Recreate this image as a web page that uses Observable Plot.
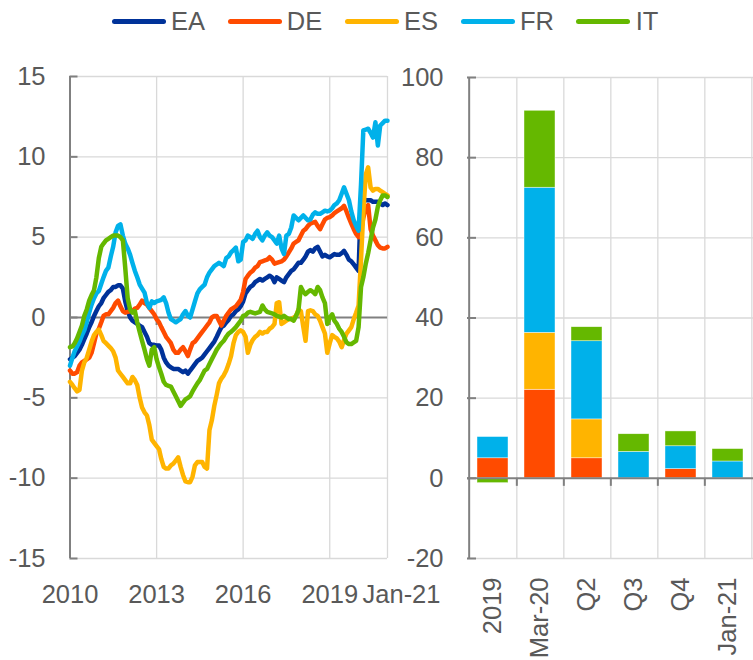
<!DOCTYPE html>
<html><head><meta charset="utf-8">
<script src="https://cdn.jsdelivr.net/npm/d3@7"></script>
<script src="https://cdn.jsdelivr.net/npm/@observablehq/plot@0.6"></script>
<style>
html,body{margin:0;padding:0;background:#fff;}
#chart{position:relative;width:753px;height:660px;overflow:hidden;font-family:"Liberation Sans",Arial,sans-serif;color:#595959;background:#fff;}
#legend{position:absolute;left:111.7px;top:0;height:43px;display:flex;align-items:center;font-size:25.5px;white-space:nowrap;}
.item{display:flex;align-items:center;margin-right:22.5px;}
.swatch{width:54px;height:5px;border-radius:2.5px;margin-right:5.3px;}
#left,#right{position:absolute;top:0;}
#left{left:0;} #right{left:373px;}
</style></head><body>
<div id="chart"><div id="left"></div><div id="right"></div><div id="legend"></div></div>
<script>
const FONT = '"Liberation Sans", Arial, sans-serif';
const seriesNames = ["EA", "DE", "ES", "FR", "IT"];
const seriesColors = ["#003299", "#ff4b00", "#ffb400", "#00b1ea", "#65b800"];
const startMonth = "2010-01";

// monthly values, Jan 2010 .. Jan 2021
const EA = [
  -2.6, -2.5, -2.4, -2.2, -2.0, -1.7, -1.35, -1.0, -0.6, -0.3, 0.1, 0.4,
  0.7, 0.9, 1.2, 1.4, 1.6, 1.7, 1.9, 1.9, 2.0, 2.0, 1.8, 1.0,
  0.4, 0.0, -0.2, -0.3, -0.4, -0.5, -0.6, -0.9, -1.2, -1.6, -1.7, -1.7,
  -1.75, -1.75, -2.0, -2.5, -2.8, -3.0, -3.1, -3.2, -3.2, -3.2, -3.3, -3.4,
  -3.3, -3.5, -3.3, -3.1, -2.9, -2.7, -2.6, -2.5, -2.3, -2.1, -1.9, -1.7,
  -1.5, -1.2, -0.9, -0.6, -0.5, -0.3, -0.15, 0.1, 0.2, 0.4, 0.5, 0.7,
  1.0, 1.5, 1.7, 1.9, 2.0, 2.2, 2.3, 2.4, 2.3, 2.4, 2.5, 2.6,
  2.5, 2.2, 2.5, 2.4, 2.3, 2.2, 2.5, 2.7, 2.9, 3.0, 3.2, 3.4,
  3.4, 3.6, 3.8, 4.1, 4.2, 4.1, 4.3, 4.4, 4.1, 3.8, 3.9, 3.8,
  3.75, 3.85, 3.95, 3.9, 3.9, 4.0, 4.15, 3.9, 3.6, 3.5, 3.3, 3.1,
  2.9, 7.4, 7.4, 7.3, 7.3, 7.3, 7.2, 7.2, 7.2, 7.1, 7.0, 7.1,
  7.0
];
const DE = [
  -3.3, -3.5, -3.5, -3.4, -3.0, -2.8, -2.7, -2.6, -2.5, -2.2, -1.6, -1.0,
  -0.7, -0.3, 0.1, 0.2, 0.2, 0.4, 0.6, 0.9, 1.05, 0.7, 0.4, 0.3,
  0.35, 0.4, 0.4, 0.55, 0.6, 0.8, 1.05, 0.9, 0.8, 0.6, 0.4, 0.2,
  -0.1, -0.3, -0.6, -0.9, -1.2, -1.4, -1.6, -2.0, -2.2, -2.2, -2.0, -1.85,
  -2.1, -2.4, -2.0, -1.6, -1.5, -1.3, -1.1, -0.9, -0.7, -0.5, -0.3, 0.0,
  0.1, 0.1, -0.2, -0.5, -0.2, 0.1, 0.3, 0.5, 0.6, 0.7, 0.9, 1.1,
  1.6, 2.4, 2.6, 2.8, 2.9, 3.1, 3.2, 3.45, 3.5, 3.55, 3.6, 3.75,
  3.6, 3.35, 3.4, 3.45, 3.5, 3.6, 3.8, 4.05, 4.3, 4.6, 4.7, 4.8,
  5.1, 5.4, 5.5, 5.7, 5.85, 5.9, 5.95, 5.7, 5.5, 5.8, 6.1, 6.2,
  6.25, 6.35, 6.5, 6.6, 6.7, 6.8, 6.95, 6.6, 6.2, 5.85, 5.5, 5.2,
  5.0, 5.4, 6.2, 6.8, 7.0, 5.5, 5.1, 4.8, 4.5, 4.35, 4.3, 4.3,
  4.4
];
const ES = [
  -4.0, -4.2, -4.4, -4.6, -4.5, -3.3, -2.8, -2.5, -2.0, -1.5, -1.1, -0.9,
  -0.75, -1.1, -1.45, -1.6, -1.75, -1.9, -2.1, -2.5, -3.3, -3.5, -3.7, -3.9,
  -4.1, -4.1, -3.7, -3.9, -4.2, -5.0, -5.6, -5.9, -6.1, -6.7, -7.6, -7.8,
  -8.0, -8.2, -8.8, -9.3, -9.4, -9.4, -9.2, -9.1, -8.9, -8.7, -9.3, -9.8,
  -10.2, -10.25, -10.25, -9.9, -9.2, -9.0, -9.0, -9.0, -9.3, -9.4, -7.0, -6.4,
  -5.5, -4.8, -4.1, -3.8, -3.6, -3.3, -2.9, -2.4, -1.6, -1.1, -0.9, -0.8,
  -0.9, -1.2, -2.2, -1.7, -1.4, -1.2, -1.1, -0.9, -1.0, -0.9, -0.9, -0.7,
  -0.6, -0.4, 0.9, 0.95, -0.4, -0.3, -0.2, -0.1, -0.1, 0.0, 0.1, 0.5,
  0.4, -0.6, -1.45, 0.4, 0.45, 0.4, 0.2, 0.1, -0.2, -0.6, -1.0, -2.2,
  -1.6, -1.1, -1.2, -1.3, -1.5, -1.85, -1.4, -1.0, -0.8, -0.6, -0.1, 0.3,
  0.75, 3.6, 6.6, 8.9, 9.35, 8.1, 7.9, 8.0, 8.0, 7.9, 7.8, 7.7,
  7.6
];
const FR = [
  -3.0, -2.5, -2.1, -1.8, -1.5, -1.1, -0.8, -0.3, 0.3, 0.8, 1.2, 1.5,
  1.65, 2.1, 2.5, 2.9, 3.1, 3.8, 4.4, 5.3, 5.7, 5.8, 5.1, 4.6,
  4.3, 3.9, 3.4, 2.9, 2.5, 2.05, 1.8, 1.55, 0.9, 0.6, 1.0, 0.9,
  1.0, 1.05, 1.1, 1.25, 0.9, 0.3, -0.1, -0.2, -0.3, -0.2, -0.1, 0.2,
  0.4, 0.1, 0.0, 0.5, 1.0, 1.5, 1.75, 1.9, 2.05, 2.5, 2.8, 3.0,
  3.2, 3.3, 3.4, 3.3, 3.2, 3.7, 3.8, 4.05, 4.2, 4.35, 3.5, 3.6,
  4.7, 4.8, 5.1, 5.0, 4.9, 5.2, 5.4, 5.0, 4.8, 5.1, 5.3, 5.1,
  5.0, 4.8, 4.6, 5.1, 4.3, 3.95, 5.1, 5.2, 5.6, 6.35, 6.2, 6.05,
  6.2, 6.35, 6.2, 6.05, 6.1, 6.4, 6.55, 6.45, 6.45, 6.55, 6.65, 6.6,
  6.65, 6.8, 7.0, 7.1, 7.3, 7.7, 8.1, 7.7, 7.3, 6.6, 6.05, 5.7,
  5.4, 8.3, 11.65, 11.7, 11.75, 11.5, 11.2, 12.15, 10.7, 11.95, 12.1, 12.25,
  12.25
];
const IT = [
  -1.85, -1.8, -1.6, -1.3, -0.9, -0.5, 0.1, 0.5, 1.05, 1.4, 1.7, 2.5,
  3.7, 4.4, 4.6, 4.8, 4.9, 5.0, 5.1, 5.1, 5.1, 5.0, 4.8, 3.1,
  1.2, 0.5, 0.3, 0.4, -0.3, -0.9, -1.45, -2.0, -2.6, -3.0, -2.0, -1.85,
  -2.6, -3.1, -3.5, -4.0, -4.2, -4.25, -4.3, -4.6, -4.9, -5.2, -5.5, -5.3,
  -5.1, -5.0, -4.9, -4.6, -4.35, -4.1, -3.9, -3.6, -3.3, -3.2, -2.9, -2.6,
  -2.3, -2.0, -1.8, -1.6, -1.45, -1.2, -1.0, -0.9, -0.75, -0.6, -0.4, -0.2,
  0.1, 0.15, 0.3, 0.35, 0.3, 0.25, 0.3, 0.35, 0.75, 0.5, 0.35, 0.3,
  0.25, 0.2, 0.1, 0.05, 0.0, 0.1, 0.0, -0.1, -0.1, -0.2, 0.1, 0.45,
  1.9, 1.6, 1.45, 1.6, 1.7, 1.6, 1.45, 1.9, 1.7, 1.25, 0.9, -0.4,
  0.0, 0.2, -0.2, -0.4, -0.7, -0.9, -1.2, -1.55, -1.65, -1.65, -1.55, -1.45,
  -0.6, 1.9, 2.5, 3.35, 4.0, 4.8, 5.6, 6.1, 6.9, 7.3, 7.6, 7.6,
  7.5
];

const xTickDates = ["2010-01-01", "2013-01-01", "2016-01-01", "2019-01-01", "2021-01-01"];
const xTickLabels = ["2010", "2013", "2016", "2019", "Jan-21"];
const yTicksLeft = [-15, -10, -5, 0, 5, 10, 15];

const barCategories = ["2019", "Mar-20", "Q2", "Q3", "Q4", "Jan-21"];
const barDE = [5.0, 22.1, 5.0, 0, 2.3, 0];
const barES = [0, 14.2, 9.7, -0.3, 0, 0];
const barFR = [5.3, 36.2, 19.5, 6.6, 5.7, 4.2];
const barIT = [-1.2, 19.2, 3.5, 4.4, 3.7, 3.1];
const yTicksRight = [-20, 0, 20, 40, 60, 80, 100];

// ---------- build tables ----------
const start = new Date(startMonth + "-01T00:00:00Z");
const lineSeries = {EA, DE, ES, FR, IT};
const lineRows = seriesNames.flatMap(name =>
  lineSeries[name].map((v, i) => ({date: d3.utcMonth.offset(start, i), value: v, series: name})));
const tickDates = xTickDates.map(s => new Date(s + "T00:00:00Z"));
const labelOf = new Map(tickDates.map((d, i) => [+d, xTickLabels[i]]));

const barSeries = {DE: barDE, ES: barES, FR: barFR, IT: barIT};
const barRows = Object.keys(barSeries).flatMap(name =>
  barSeries[name].map((v, i) => ({category: barCategories[i], value: v, series: name})))
  .filter(d => d.value !== 0);

const GRID = "#d9d9d9", AXIS = "#808080";
const H = 660;
const baseStyle = {background: "transparent", overflow: "visible", fontFamily: FONT, fontSize: "25.5px", color: "#595959"};

// ---------- left panel ----------
const W1 = 460, mL1 = 69.5, mR1 = 73, mT1 = 76, mB1 = 102;
const fw1 = W1 - mL1 - mR1;
const left = Plot.plot({
  width: W1, height: H, marginLeft: mL1, marginRight: mR1, marginTop: mT1, marginBottom: mB1,
  style: baseStyle,
  x: {type: "utc", domain: [tickDates[0], tickDates[tickDates.length - 1]], label: null},
  y: {domain: [-15, 15], label: null},
  color: {domain: seriesNames, range: seriesColors},
  marks: [
    Plot.ruleY(yTicksLeft.filter(d => d !== 0), {stroke: GRID, strokeWidth: 1.3}),
    Plot.ruleX(tickDates.slice(1), {stroke: GRID, strokeWidth: 1.3}),
    Plot.ruleY([0], {stroke: AXIS, strokeWidth: 2}),
    Plot.ruleX(tickDates.slice(1, 4), {y1: 0, y2: -0.5, stroke: AXIS, strokeWidth: 2}),
    Plot.ruleX(tickDates.slice(0, 1), {stroke: AXIS, strokeWidth: 2}),
    Plot.tickY(yTicksLeft, {stroke: AXIS, strokeWidth: 2, insetRight: fw1 - 8}),
    Plot.line(lineRows, {x: "date", y: "value", z: "series", stroke: "series", strokeWidth: 4.5,
      strokeLinejoin: "round", strokeLinecap: "round"}),
    Plot.axisY(yTicksLeft, {tickSize: 0, tickPadding: 24.5, tickFormat: d => String(d), label: null}),
    Plot.axisX(tickDates.slice(0, 4), {tickSize: 0, tickPadding: 26, tickFormat: d => labelOf.get(+d), label: null}),
    Plot.axisX(tickDates.slice(4), {tickSize: 0, tickPadding: 26, dx: 14, tickFormat: d => labelOf.get(+d), label: null})
  ]
});
document.getElementById("left").append(left);

// ---------- right panel ----------
const W2 = 380, mL2 = 94, mR2 = 0, mT2 = 77, mB2 = 102;
const fw2 = W2 - mL2 - mR2;
const step = fw2 / barCategories.length;
const right = Plot.plot({
  width: W2, height: H, marginLeft: mL2, marginRight: mR2, marginTop: mT2, marginBottom: mB2,
  style: baseStyle,
  x: {domain: barCategories, paddingInner: 0.33, paddingOuter: 0.165, label: null},
  y: {domain: [-20, 100], label: null},
  color: {domain: seriesNames, range: seriesColors},
  marks: [
    Plot.ruleY(yTicksRight.filter(d => d !== 0), {stroke: GRID, strokeWidth: 1.3}),
    Plot.ruleX(barCategories, {dx: step / 2, stroke: GRID, strokeWidth: 1.3}),
    Plot.barY(barRows, Plot.stackY({x: "category", y: "value", fill: "series",
      stroke: "#fff", strokeWidth: 0.6, strokeOpacity: 0.7})),
    Plot.ruleY([0], {stroke: AXIS, strokeWidth: 2}),
    Plot.ruleX(barCategories.slice(0, -1), {dx: step / 2, y1: 0, y2: -2, stroke: AXIS, strokeWidth: 2}),
    Plot.ruleX(barCategories.slice(0, 1), {dx: -step / 2, stroke: AXIS, strokeWidth: 2}),
    Plot.tickY(yTicksRight, {stroke: AXIS, strokeWidth: 2, insetRight: fw2 - 9}),
    Plot.axisY(yTicksRight, {tickSize: 0, tickPadding: 24, tickFormat: d => String(d), label: null}),
    Plot.axisX(barCategories, {tickSize: 0, tickPadding: 19, tickRotate: -90, label: null})
  ]
});
document.getElementById("right").append(right);

// ---------- legend ----------
const legend = d3.select("#legend");
seriesNames.forEach((name, i) => {
  const item = legend.append("div").attr("class", "item");
  item.append("div").attr("class", "swatch").style("background", seriesColors[i]);
  item.append("span").text(name);
});
</script></body></html>
